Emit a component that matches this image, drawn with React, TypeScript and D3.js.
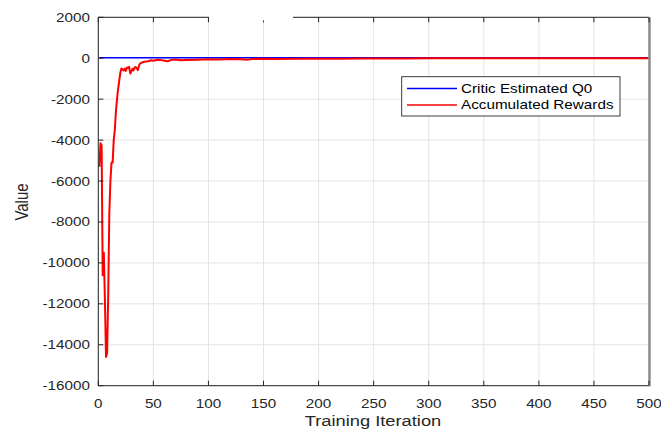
import React from "react";
import * as d3 from "d3";

const xTicks = [0, 50, 100, 150, 200, 250, 300, 350, 400, 450, 500];
const yTicks = [2000, 0, -2000, -4000, -6000, -8000, -10000, -12000, -14000, -16000];

const criticIter = [1, 50, 100, 150, 200, 250, 300, 350, 400, 450, 500];
const criticQ0 = [20, 20, 20, 20, 20, 20, 20, 20, 20, 20, 20];

const rewardIter = [
  1, 2, 3, 4, 5, 6, 7, 8, 9, 10, 11, 12, 13, 14, 15, 16, 17, 18, 19, 20,
  21, 22, 23, 24, 25, 26, 27, 28, 29, 30, 31, 32, 33, 34, 35, 36, 37, 38, 40, 42,
  45, 48, 50, 53, 56, 60, 63, 66, 70, 75, 80, 90, 100, 110, 120, 130, 135, 140, 150, 160,
  180, 200, 220, 240, 260, 280, 300, 320, 350, 380, 400, 420, 450, 480, 500,
];
const rewardVal = [
  -5300, -4150, -4250, -10600, -9500, -11800, -14600, -14400, -11600, -7600, -6000, -5100, -5100, -4000, -3500, -2600, -2000, -1500, -1100, -700,
  -500, -550, -600, -500, -620, -450, -480, -420, -750, -650, -520, -600, -450, -430, -500, -580, -350, -250, -200, -170,
  -150, -100, -120, -90, -80, -120, -150, -80, -60, -100, -90, -70, -50, -60, -40, -50, -70, -40, -30, -35,
  -25, -20, -20, -15, -15, -8, -5, -5, -4, -5, -3, -4, -3, -3, -3,
];

const W = 661;
const H = 430;
const SX = 1.22;
const FONT = "'Liberation Sans', Arial, sans-serif";
const INK = "#262626";

export default function App() {
  const x = d3.scaleLinear().domain([0, 500]).range([98.3, 649]);
  const y = d3.scaleLinear().domain([-16000, 2000]).range([385.7, 17.3]);
  const line = d3
    .line<[number, number]>()
    .x((d) => x(d[0]))
    .y((d) => y(d[1]));
  const critic = criticIter.map((t, i) => [t, criticQ0[i]] as [number, number]);
  const reward = rewardIter.map((t, i) => [t, rewardVal[i]] as [number, number]);
  const [x0, x1] = x.range();
  const yTop = y(2000);
  const yBot = y(-16000);

  return (
    <svg
      width={W}
      height={H}
      style={{ position: "absolute", left: 0, top: 0, background: "#fff" }}
      fontFamily={FONT}
    >
      <rect x={0} y={0} width={W} height={H} fill="#fff" />
      {/* grid */}
      {xTicks.map((t) => (
        <line key={"gx" + t} x1={x(t)} x2={x(t)} y1={yTop} y2={yBot} stroke="#e3e3e3" strokeWidth={1} />
      ))}
      {yTicks.map((t) => (
        <line key={"gy" + t} x1={x0} x2={x1} y1={y(t)} y2={y(t)} stroke="#e3e3e3" strokeWidth={1} />
      ))}
      {/* data */}
      <path d={line(critic) || ""} fill="none" stroke="#0000ff" strokeWidth={1.6} />
      <path d={line(reward) || ""} fill="none" stroke="#ff0000" strokeWidth={2} strokeLinejoin="round" />
      {/* axes box */}
      <line x1={x0} x2={x1} y1={yBot} y2={yBot} stroke={INK} strokeWidth={1} />
      <line x1={x0} x2={x1} y1={yTop} y2={yTop} stroke={INK} strokeWidth={1} />
      <line x1={x0} x2={x0} y1={yTop} y2={yBot} stroke={INK} strokeWidth={1} />
      <line x1={x1 + 0.5} x2={x1 + 0.5} y1={yTop} y2={yBot + 0.5} stroke="#8c8c8c" strokeWidth={2.5} />
      {xTicks.map((t) => (
        <g key={"tx" + t}>
          <line x1={x(t)} x2={x(t)} y1={yBot} y2={yBot - 5} stroke={INK} />
          <line x1={x(t)} x2={x(t)} y1={yTop} y2={yTop + 5} stroke={INK} />
        </g>
      ))}
      {yTicks.map((t) => (
        <line key={"ty" + t} x1={x0} x2={x0 + 5} y1={y(t)} y2={y(t)} stroke={INK} />
      ))}
      {/* hidden title region */}
      <rect x={209} y={0} width={84} height={20.5} fill="#fff" />
      {/* tick labels */}
      {xTicks.map((t) => (
        <g key={"lx" + t} transform={`translate(${x(t)},${407.5}) scale(${SX},1)`}>
          <text textAnchor="middle" fontSize={12.5} fill={INK}>
            {t}
          </text>
        </g>
      ))}
      {yTicks.map((t) => (
        <g key={"ly" + t} transform={`translate(90,${y(t) + 4.5}) scale(${SX},1)`}>
          <text textAnchor="end" fontSize={12.5} fill={INK}>
            {t}
          </text>
        </g>
      ))}
      {/* axis labels */}
      <g transform={`translate(373,426) scale(${SX},1)`}>
        <text textAnchor="middle" fontSize={15} fill={INK}>
          Training Iteration
        </text>
      </g>
      <g transform={`translate(28,202) scale(${SX},1) rotate(-90)`}>
        <text textAnchor="middle" fontSize={15} fill={INK}>
          Value
        </text>
      </g>
      {/* legend */}
      <rect x={401.7} y={76.7} width={218.3} height={39.3} fill="#fff" stroke={INK} strokeWidth={0.9} />
      <line x1={407} x2={457} y1={88.5} y2={88.5} stroke="#0000ff" strokeWidth={1.5} />
      <line x1={407} x2={457} y1={105} y2={105} stroke="#ff0000" strokeWidth={1.5} />
      <g transform={`translate(461,92.7) scale(${SX},1)`}>
        <text fontSize={12.5} fill="#000">Critic Estimated Q0</text>
      </g>
      <g transform={`translate(461,109.3) scale(${SX},1)`}>
        <text fontSize={12.5} fill="#000">Accumulated Rewards</text>
      </g>
    </svg>
  );
}
